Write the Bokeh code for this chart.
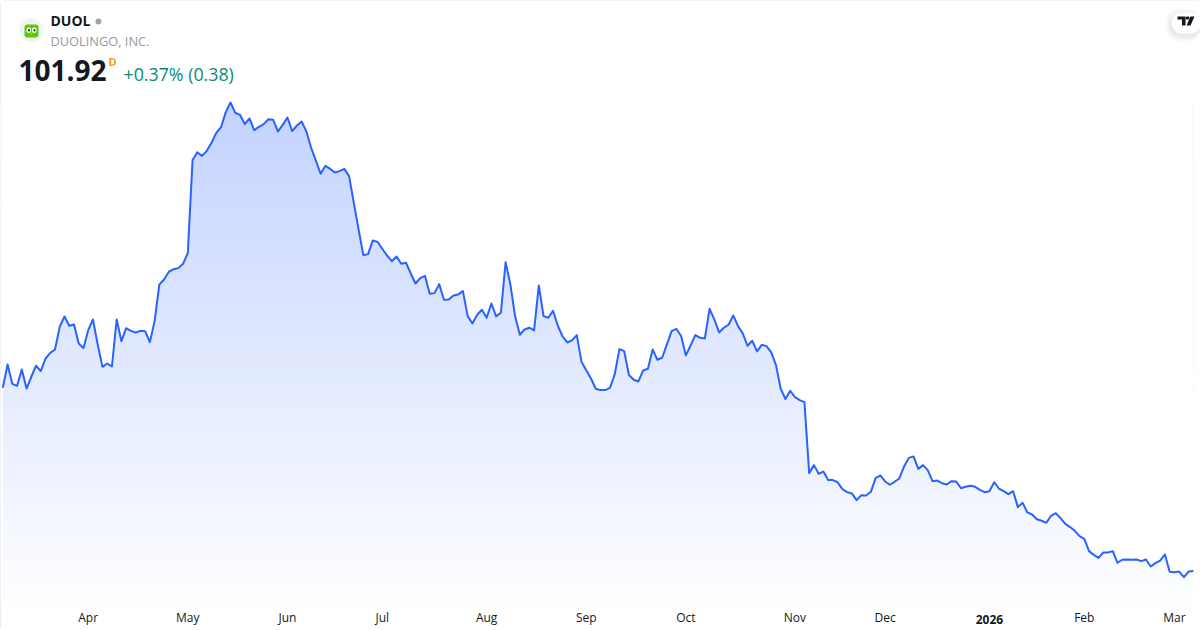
import numpy as np
from bokeh.plotting import figure
from bokeh.embed import file_html
from bokeh.resources import INLINE
from bokeh.models import Label, BoxAnnotation, PolyAnnotation, FixedTicker, Range1d, LinearAxis

ticker = "DUOL"
company = "DUOLINGO, INC."
last_price = "101.92"
change = "+0.37% (0.38)"
tick_index = [18, 39, 60, 80, 102, 123, 144, 167, 186, 208, 228, 247]
tick_names = ["Apr", "May", "Jun", "Jul", "Aug", "Sep", "Oct", "Nov", "Dec", "2026", "Feb", "Mar"]

prices_spring = [273.4, 295.2, 277.1, 275.2, 290.5, 272.7, 283.7, 294.0, 289.0, 300.8, 306.1, 309.2, 330.5, 340.1,
                 331.4, 332.6, 314.9, 310.5, 327.3, 337.3, 313.9, 293.0, 296.1, 293.3, 337.3, 317.0, 329.2, 326.7,
                 325.2, 326.7, 326.4, 316.1, 335.8, 370.1, 374.8, 382.0, 384.4, 385.4, 389.4, 399.7, 486.5, 493.9,
                 490.5, 495.2, 502.7, 512.0, 517.3, 531.4, 540.4, 530.8, 528.9, 520.2, 525.5, 514.5, 517.7, 520.2,
                 524.8, 524.2, 513.3, 519.5, 526.4, 513.6, 518.9, 522.6, 513.3, 498.0, 486.1, 473.7, 481.2, 478.3,
                 474.9, 476.2, 478.3, 471.5, 446.5, 421.6, 397.5, 398.5, 411.3, 410.0, 403.5, 397.2, 391.9, 396.3]
prices_summer = [389.5, 390.4, 380.4, 371.0, 376.0, 378.2, 361.4, 362.0, 370.4, 355.8, 356.1, 359.8, 360.8, 363.9,
                 340.5, 333.6, 341.7, 346.4, 338.9, 352.3, 340.2, 343.6, 391.0, 370.1, 340.5, 323.0, 328.0, 329.6,
                 327.1, 369.2, 340.5, 338.9, 345.5, 331.7, 321.4, 315.8, 317.7, 322.7, 297.7, 289.9, 282.1, 272.5,
                 271.2, 271.2, 273.4, 285.9, 309.6, 307.7, 285.3, 280.9, 279.3, 289.6, 291.2, 309.3, 299.6, 301.5,
                 314.0, 326.4, 328.6, 321.8, 303.7, 313.0, 322.7, 320.2, 319.6, 347.3, 337.4, 325.2, 329.6, 332.4,
                 341.1, 331.1, 324.3, 312.7, 317.4, 307.4, 313.6, 312.4, 306.5, 294.6, 272.5, 262.8, 270.6, 264.7,
                 261.9, 260.0]
prices_winter = [193.5, 201.0, 192.9, 195.0, 187.0, 187.0, 185.0, 178.5, 175.7, 174.5, 168.2, 172.9, 172.6, 176.0,
                 188.8, 191.3, 185.7, 182.6, 185.4, 188.5, 199.7, 207.8, 209.1, 197.5, 201.0, 196.3, 186.0, 186.6,
                 184.1, 182.9, 186.0, 185.7, 179.4, 180.7, 181.6, 180.7, 177.9, 175.7, 176.6, 185.0, 179.1, 176.6,
                 173.8, 176.6, 161.7, 165.7, 156.7, 154.8, 150.4, 148.9, 147.0, 153.6, 156.0, 151.4, 146.0, 143.0,
                 139.5, 134.5, 132.0, 120.5, 117.0, 114.2, 119.2, 119.2, 120.5, 109.6, 112.4, 112.7, 112.4, 112.7,
                 111.1, 112.7, 106.1, 109.2, 111.7, 117.4, 101.1, 100.8, 101.4, 96.1, 101.4, 101.92]

prices = prices_spring + prices_summer + prices_winter
xs = list(range(len(prices)))

W, H = 1200, 630
FRAME_H = 605
Y_LOW, Y_HIGH = 69.6, 635.9
p = figure(width=W, height=H, output_backend="svg", toolbar_location=None,
           x_range=Range1d(-0.491, 252.5), y_range=Range1d(Y_LOW, Y_HIGH), min_border=0,
           min_border_bottom=H - FRAME_H,
           margin=0, background_fill_color="#ffffff", border_fill_color="#ffffff")
p.styles = {"border-radius": "4px", "outline": "1px solid #E0E3EB", "outline-offset": "-1px"}
p.grid.visible = False
p.yaxis.visible = False
p.outline_line_color = None

# vertical gradient under the line; a white area above the line masks it
rows = 300
alpha = np.linspace(2, 72, rows)          # bottom -> top
img = np.zeros((rows, 1), dtype=np.uint32)
view = img.view(np.uint8).reshape(rows, 1, 4)
view[:, 0, 0], view[:, 0, 1], view[:, 0, 2] = 41, 98, 255
view[:, 0, 3] = alpha.astype(np.uint8)
p.image_rgba(image=[img], x=0, y=Y_LOW, dw=len(prices) - 1, dh=max(prices) - Y_LOW)
p.varea(x=xs, y1=prices, y2=[Y_HIGH] * len(prices), fill_color="#ffffff")
p.line(xs, prices, line_color="#2962FF", line_width=2, line_join="round")


def style_axis(ax):
    ax.axis_line_color = None
    ax.major_tick_line_color = None
    ax.minor_tick_line_color = None
    ax.major_tick_out = 0
    ax.major_tick_in = 0
    ax.minor_tick_out = 0
    ax.major_label_text_font = "Open Sans"
    ax.major_label_text_font_size = "12px"
    ax.major_label_text_color = "#131722"


ax = p.xaxis[0]
ax.ticker = FixedTicker(ticks=tick_index)
ax.major_label_overrides = {i: ("" if n == "2026" else n) for i, n in zip(tick_index, tick_names)}
style_axis(ax)
ax.major_label_standoff = 3

year_tick = tick_index[tick_names.index("2026")]
ax2 = LinearAxis(ticker=FixedTicker(ticks=[year_tick]), major_label_overrides={year_tick: "2026"})
style_axis(ax2)
ax2.major_label_text_font_style = "bold"
ax2.major_label_standoff = -14
p.add_layout(ax2, "below")


def label(text, x, y, size, color, style="normal", align="left", base="alphabetic"):
    p.add_layout(Label(x=x, y=y, x_units="screen", y_units="screen", text=text, text_font="Open Sans",
                       text_font_size=size, text_color=color, text_font_style=style,
                       text_align=align, text_baseline=base))


def to_y(py):
    return FRAME_H - py


label(ticker, 50, to_y(20), "14px", "#131722", "bold")
label(company, 50, to_y(40), "12.8px", "#9598A1")
label(last_price, 18, to_y(70), "28px", "#131722", "bold")
label("D", 108, to_y(61), "11px", "#FF9800", "bold")
label(change, 123, to_y(73), "17.8px", "#0A8A74")


def box(l, r, t, b, color=None, alpha=1.0, radius=0, line=None):
    p.add_layout(BoxAnnotation(left=l, right=r, top=to_y(t), bottom=to_y(b), left_units="screen",
                               right_units="screen", top_units="screen", bottom_units="screen",
                               fill_color=color, fill_alpha=alpha if color else 0, line_color=line,
                               line_alpha=1 if line else 0, line_width=1, border_radius=radius, level="overlay"))


def poly(px, py, color):
    p.add_layout(PolyAnnotation(xs=px, ys=[to_y(v) for v in py], xs_units="screen", ys_units="screen",
                                fill_color=color, fill_alpha=1, line_alpha=0, level="overlay"))


box(95, 101, 18, 24, "#A0A3AC", radius=3)
box(19, 43, 18, 42, "#F0F3FA", radius=12)
box(24, 38, 24, 37, "#58CC02", radius=3)
box(26, 30.5, 27, 32.5, "#FFFFFF", radius=2)
box(31.5, 36, 27, 32.5, "#FFFFFF", radius=2)
box(27.5, 29.5, 28.5, 31, "#1F3D0C", radius=1)
box(33, 35, 28.5, 31, "#1F3D0C", radius=1)
box(30, 32, 32, 34, "#FFA000", radius=1)

for grow, a in [(6, 0.02), (4, 0.03), (2, 0.04)]:
    box(1171 - grow, 1200, 12 - grow + 2, 33 + grow + 2, "#131722", a, radius=12)
box(1171, 1200, 12, 33, "#FFFFFF", radius=10)
poly([1177, 1185, 1185, 1181.5, 1181.5, 1177], [16, 16, 25, 25, 19, 19], "#131722")
box(1185, 1189, 16, 19, "#131722", radius=2)
poly([1190, 1194, 1190, 1186], [16, 16, 25, 25], "#131722")

open("out.html", "w").write(file_html(p, INLINE))
